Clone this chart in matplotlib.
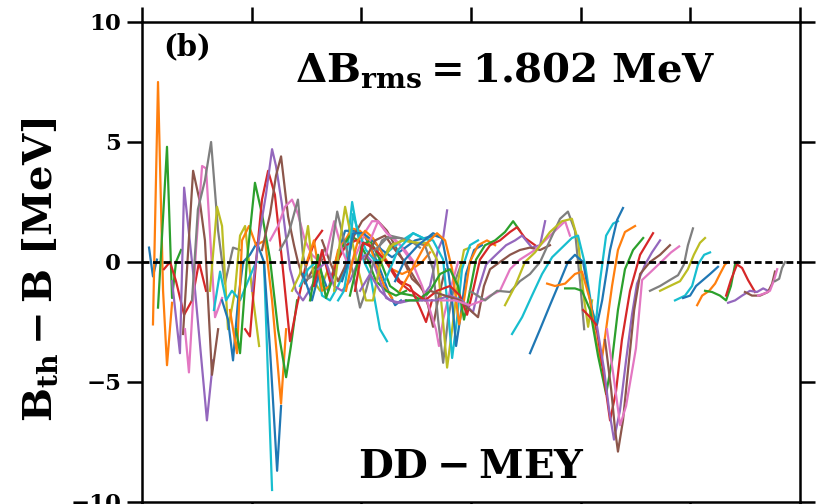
import matplotlib.pyplot as plt

# isotopic chains: mass number A and B_th - B (MeV)
light_A = [
    [3.2, 5.0, 6.8],
    [5.0, 7.3, 9.6, 11.4, 13.7],
    [7.3, 11.4, 13.7, 15.5, 17.8],
    [10.0, 12.8, 15.5, 19.2, 22.8, 26.0, 29.2],
    [13.7, 17.3, 19.2, 24.2, 29.6, 32.4],
    [18.7, 23.3, 26.4, 28.7, 31.9, 34.7],
    [19.6, 21.4, 24.6, 27.4, 29.2, 33.3, 36.5],
    [22.8, 25.5, 28.7, 31.5, 34.7, 37.8, 41.5, 44.7],
    [31.0, 34.2, 36.5, 39.2, 42.4, 44.7, 47.0, 50.2, 53.4],
    [32.8, 35.6, 38.3, 41.0, 44.7, 48.3, 52.0, 55.6, 57.5, 59.3],
    [36.5, 39.2, 41.5, 43.8, 46.1, 49.2, 52.4, 55.6, 58.4, 61.6, 63.4],
    [40.1, 43.3, 45.6, 48.8, 52.0, 56.1, 59.3, 63.4, 65.7],
    [42.9, 44.7, 47.9, 51.5, 54.7, 58.4, 62.0, 65.7, 67.9, 70.7],
    [47.0, 49.2, 52.0, 54.7, 57.5, 60.6, 63.8, 67.5, 70.7, 74.3, 78.9, 82.1],
    [50.2, 53.8, 56.5, 59.3, 61.1, 63.8, 67.5, 70.2, 73.4, 77.5, 81.2],
    [54.7, 58.4, 61.1, 63.4, 66.6, 69.3, 71.1, 74.3, 78.0, 82.1],
    [58.4, 62.0, 65.2, 68.4, 71.1, 74.3, 77.5, 81.2],
    [62.9, 66.6, 71.1, 73.4, 75.7, 79.3, 83.0],
    [68.4, 72.0, 75.7, 78.4, 81.2, 84.8],
]
light_dB = [
    [0.6, -0.6, 0.1],
    [-2.6, 7.5, -1.2, -4.3, -1.7],
    [-1.9, 4.8, -1.5, 0.0, 0.5],
    [-0.3, 0.0, -0.8, -2.2, -1.6, 0.0, -1.2],
    [-0.8, -3.8, 3.1, -1.2, -6.6, -4.1],
    [-3.0, 3.8, 2.5, 0.9, -4.7, -2.8],
    [-2.8, -4.6, 0.5, 4.0, 3.9, -2.3, -1.5],
    [-1.6, 2.2, 3.4, 5.0, 1.3, -0.9, 0.6, 0.5],
    [-1.2, 2.3, 1.5, -2.8, -1.2, 1.1, 1.5, -1.2, -3.5],
    [-2.0, -0.4, -1.6, -1.2, -1.6, -0.8, 0.0, 0.0, -4.9, -9.5],
    [-1.6, -2.4, -4.1, -1.6, 0.0, 0.3, 0.8, 0.0, -3.7, -8.7, -6.0],
    [-2.0, -3.8, 0.9, 1.5, 0.7, 0.9, -1.6, -5.9, -2.8],
    [-2.8, -3.8, 0.1, 3.3, 2.0, 0.1, -2.8, -4.8, -3.5, -1.6],
    [-2.8, -3.1, 0.0, 2.6, 3.8, 2.8, 0.1, -3.3, -1.8, -0.3, 0.9, 1.3],
    [-1.2, 1.3, 2.8, 4.7, 4.0, 2.4, -0.3, -1.2, -1.6, -1.0, -0.3],
    [0.5, 2.0, 3.6, 4.4, 1.9, 0.7, 0.0, -0.9, -0.3, 0.1],
    [0.9, 1.5, 2.3, 2.6, 2.0, 0.9, 0.3, 0.0],
    [0.5, 1.1, 2.6, 0.3, -0.7, -0.5, 0.5],
    [-1.2, -0.5, 1.5, -0.8, -1.2, -0.3],
]

mid_A = [
    [72.0, 75.7, 79.3, 82.1, 85.7, 89.4, 92.6, 95.8, 98.5, 101.3, 104.0, 108.5, 111.7],
    [73.4, 77.5, 81.2, 84.8, 88.5, 92.6, 97.1, 100.8, 104.9, 108.5, 112.2, 115.4, 118.1],
    [74.8, 78.4, 82.1, 85.7, 89.4, 92.6, 95.8, 99.4, 103.1, 106.7, 110.4, 114.0],
    [76.6, 80.3, 83.9, 87.6, 91.2, 94.8, 98.5, 102.1, 106.7, 111.3, 115.8, 120.4],
    [78.4, 82.1, 85.7, 89.4, 93.0, 97.6, 101.3, 105.8, 111.3, 116.7, 122.2],
    [80.3, 83.9, 87.6, 91.2, 94.8, 98.5, 102.1, 105.8, 111.3, 115.8, 120.4],
    [82.1, 85.7, 89.4, 93.0, 96.7, 100.3, 104.0, 107.6, 111.7, 115.8, 119.5, 123.1, 126.7],
    [83.9, 87.6, 91.2, 94.8, 98.5, 102.1, 104.9, 107.6, 111.7, 115.8, 119.9, 124.0],
    [85.7, 89.0, 92.1, 95.8, 99.4, 102.1, 105.8, 109.4, 113.1, 117.6, 122.2, 126.7],
    [87.6, 90.3, 92.6, 94.8, 98.5, 102.1, 105.3, 108.5, 113.1, 119.0, 124.5, 130.0],
    [89.4, 92.1, 94.4, 96.2, 98.5, 102.1, 106.7, 113.1, 118.6, 123.6, 128.1, 131.3],
    [91.2, 94.0, 96.2, 100.8, 104.9, 109.4, 114.0, 118.6, 124.5, 129.0, 133.6, 136.8],
    [93.0, 95.8, 98.5, 101.7, 105.3, 109.9, 114.0, 118.6, 123.1, 127.7, 131.3],
    [94.8, 97.6, 100.3, 104.0, 108.5, 113.1, 117.6, 123.6, 127.7, 131.3],
    [97.1, 100.8, 105.3, 111.7, 117.6, 122.2, 126.7, 129.5, 132.2],
    [99.4, 104.0, 108.5, 113.1, 117.6, 122.2, 126.7, 131.3, 134.9, 137.3, 139.1],
    [101.7, 106.3, 110.8, 115.4, 119.9, 124.5, 128.1, 130.4, 132.7, 134.9, 138.2],
    [104.0, 107.6, 111.7, 117.6, 123.1, 127.7, 131.3, 134.0, 135.4, 137.3, 140.4, 144.1],
    [106.3, 111.7, 117.6, 124.5, 129.0, 132.7, 135.0, 137.3, 139.5, 142.7, 145.9],
    [108.5, 114.0, 119.0, 125.9, 130.4, 134.5, 136.8, 139.1, 141.4, 144.1, 146.8, 149.5],
    [110.8, 116.7, 123.6, 128.1, 132.7, 137.3, 139.5, 141.4, 143.6, 145.9, 149.5, 153.2],
    [115.4, 119.9, 125.9, 132.7, 136.8, 139.5, 141.4, 143.2, 145.0, 147.7, 151.4, 155.0],
    [117.6, 123.1, 129.0, 134.5, 138.2, 141.4, 144.6, 146.8, 149.5, 153.2, 157.3, 161.0],
    [120.4, 125.9, 131.3, 135.9, 140.4, 144.1, 146.8, 149.1, 152.3, 156.4, 161.0, 165.5, 169.2, 172.3],
    [123.1, 129.0, 134.5, 140.4, 145.0, 148.2, 150.9, 154.1, 158.7, 163.2, 167.8, 171.0, 174.6, 179.2],
    [126.7, 133.6, 140.4, 145.9, 150.9, 153.2, 156.9, 161.4, 166.0, 170.1, 173.3, 177.8, 181.5, 183.8],
    [131.3, 138.2, 145.0, 149.5, 153.2, 155.9, 158.7, 163.2, 167.8, 172.3, 176.9, 181.5, 186.0],
    [135.9, 142.7, 149.5, 155.5, 158.7, 163.2, 167.8, 172.3, 179.2, 183.8, 188.3, 192.9, 195.1],
]
mid_dB = [
    [-1.0, -0.3, 0.0, -1.4, -1.6, -1.0, -0.3, 2.5, 1.1, 0.0, -0.5, -2.8, -3.3],
    [-0.5, -1.6, -0.3, -1.2, 0.1, 1.3, 1.3, 1.2, 0.5, -0.3, -1.2, -1.8, -1.6],
    [-0.1, 0.9, -1.2, -1.0, 0.5, 0.9, 1.4, 1.3, 0.9, -0.1, -1.0, -1.5],
    [-1.6, 0.3, -1.5, -0.5, 0.6, 1.1, 0.9, 0.3, -0.8, -1.2, -1.4, -1.2],
    [-1.0, 0.5, -0.8, 0.1, 0.7, 0.9, 0.8, 0.6, 0.0, -0.8, -1.2],
    [-0.3, 0.0, -1.0, -1.2, -0.8, 0.0, 0.3, -0.1, -1.5, -1.7, -1.6],
    [0.9, 0.0, -0.8, -0.1, 1.1, 1.7, 2.0, 1.7, 1.3, 0.6, 0.0, -0.7, -1.0],
    [0.3, 1.7, 0.5, -0.3, 0.5, 1.3, 1.7, 1.7, 1.2, 0.9, 0.5, 0.0],
    [0.1, 2.1, 0.9, -0.3, -1.9, -1.2, 0.1, 0.9, 1.1, 1.0, 0.9, 0.6],
    [-1.2, 0.9, 2.3, 1.3, -0.3, -1.6, -1.6, -0.1, 0.7, 0.9, 0.8, 0.7],
    [-1.6, -1.2, 0.1, 2.0, 1.3, 0.5, 0.0, 0.5, 0.9, 1.2, 1.0, 0.9],
    [-0.8, 0.0, 1.2, 1.2, 0.9, 0.5, 0.2, 0.5, 0.9, 1.0, 1.1, 1.0],
    [-1.2, 0.0, 0.9, 1.3, 1.0, 0.3, -0.3, -0.5, -0.3, 0.0, 0.4],
    [-1.4, -0.3, 0.7, 0.9, 0.1, -1.0, -1.3, -1.4, -1.6, -1.2],
    [-1.2, 0.8, 0.6, 0.0, -0.8, -1.0, -1.9, -2.5, -1.6],
    [-1.2, -0.5, -1.2, -1.6, -1.7, -1.6, -1.6, -1.0, 0.5, 1.0, 2.15],
    [0.1, 0.9, 1.1, 0.5, 0.0, -0.7, -1.2, -1.8, -2.7, -1.6, -0.3],
    [0.9, 1.7, 1.2, 0.7, 0.0, -1.0, -2.0, -2.8, -3.5, -2.4, -1.2, 0.0],
    [0.5, 1.0, 1.0, 0.8, 0.7, -0.3, -2.4, -4.2, -2.4, -0.8, 0.0],
    [-0.1, 0.7, 0.9, 0.8, 0.8, 0.1, -2.0, -4.4, -2.8, -0.8, 0.5, 0.6],
    [-0.8, 0.5, 1.2, 1.0, 0.9, 0.1, -2.0, -4.0, -2.4, -0.3, 0.7, 0.9],
    [-0.8, 0.1, 0.7, 1.2, 1.0, -0.3, -1.6, -3.5, -2.4, -0.5, 0.5, 0.7],
    [-1.2, -0.3, 0.7, 1.2, 0.9, -0.3, -2.6, -1.6, 0.0, 0.7, 0.9, 0.7],
    [-1.6, -1.6, -1.2, -0.5, -0.3, -1.0, -2.4, -1.4, 0.1, 0.7, 0.9, 1.25, 1.7, 1.3],
    [-1.2, -1.6, -1.2, -1.0, -1.4, -2.2, -1.2, 0.1, 0.7, 0.9, 1.25, 1.45, 1.0, 0.7],
    [-1.6, -1.6, -1.4, -1.6, -2.1, -1.2, -0.1, 0.3, 0.7, 0.9, 1.1, 0.6, 0.7, 1.7],
    [-1.2, -1.4, -1.6, -2.0, -2.3, -1.0, -0.3, 0.0, 0.3, 0.5, 0.6, 0.5, 0.7],
    [-1.6, -1.6, -1.8, -1.6, -1.4, -1.2, -0.3, 0.1, 0.5, 0.9, 1.3, 1.7, 1.1],
]

heavy_A = [
    [149.5, 156.4, 161.9, 167.8, 172.3, 176.9, 181.5, 186.0, 190.6, 194.2, 197.4, 199.7, 201.6],
    [165.5, 170.1, 174.6, 179.2, 186.0, 191.5, 196.0, 198.8, 201.6, 203.4, 205.2],
    [168.7, 173.3, 177.8, 182.4, 187.0, 191.5, 196.0, 198.8, 202.0, 205.2, 207.0, 208.8, 211.6, 214.8, 217.0],
    [176.9, 181.5, 186.0, 190.6, 194.2, 197.4, 201.1, 204.3, 207.0, 209.8, 213.4, 216.6, 219.3],
    [184.7, 188.3, 192.9, 197.4, 200.6, 204.3, 207.0, 209.3, 211.6, 214.3, 217.0, 220.2, 224.8],
    [192.9, 197.4, 200.6, 204.3, 207.9, 211.6, 214.3, 217.0, 220.2, 223.9, 228.5],
    [201.1, 204.3, 207.0, 210.2, 213.4, 216.1, 218.8, 222.5, 227.1, 233.0],
    [207.5, 210.7, 213.0, 215.2, 217.9, 220.7, 223.4, 225.7, 229.4, 232.5, 236.2],
    [211.1, 213.9, 215.7, 217.0, 219.3, 221.6, 224.4, 227.1, 231.6, 236.2, 240.7],
    [212.0, 215.2, 218.0, 220.7, 225.2, 228.0, 232.1, 236.7, 241.2, 244.9],
    [231.6, 236.2, 240.7, 244.4, 247.1, 248.9, 251.2],
    [236.2, 240.7, 245.3, 248.9, 251.6, 254.4, 256.7],
    [243.0, 247.6, 250.8, 253.5, 256.3, 259.0],
    [246.7, 249.9, 252.6, 255.8, 259.0, 262.6],
    [253.1, 255.4, 258.6, 261.3, 263.5, 265.8, 267.2],
    [256.7, 259.9, 263.5, 266.3, 268.5, 270.4, 271.7],
    [266.3, 268.5, 271.3, 273.6, 276.3, 279.5],
    [267.2, 270.4, 273.6, 277.2, 280.4, 283.2, 285.4],
    [274.9, 278.1, 281.8, 285.4, 287.3, 288.6],
    [280.9, 284.1, 286.3, 288.2, 289.6],
    [288.6, 290.5, 291.8, 293.2],
]
heavy_dB = [
    [-1.2, -1.6, -1.2, -1.25, -0.8, -0.5, 0.0, 0.9, 1.8, 2.1, 1.3, -0.8, -2.8],
    [-1.8, -1.0, 0.0, 0.4, 1.25, 1.7, 1.8, 0.9, -1.6, -2.7, -1.6],
    [-3.0, -2.3, -1.4, -0.5, 0.2, 0.6, 1.0, 1.1, -0.1, -2.0, -2.5, -0.8, 1.1, 1.6, 1.7],
    [-3.8, -2.8, -1.8, -0.8, 0.0, 0.3, 0.0, -1.6, -2.8, -1.6, 0.5, 1.75, 2.25],
    [-0.9, -1.0, -0.9, -0.5, -0.4, -1.6, -3.25, -4.3, -2.8, -1.0, 0.5, 1.25, 1.5],
    [-1.1, -1.1, -1.2, -2.0, -3.9, -5.5, -4.1, -2.0, -0.3, 0.5, 1.0],
    [-2.0, -2.3, -2.6, -4.5, -6.6, -5.4, -3.25, -1.2, 0.3, 1.2],
    [-2.7, -4.5, -6.2, -7.4, -6.2, -4.1, -2.2, -0.9, -0.1, 0.4, 0.9],
    [-3.25, -5.3, -7.0, -7.9, -6.6, -4.5, -2.0, -0.5, 0.0, 0.3, 0.7],
    [-2.8, -4.9, -6.8, -6.0, -3.6, -0.75, -0.4, 0.0, 0.4, 0.65],
    [-1.2, -1.0, -0.75, -0.55, -0.1, 0.7, 1.4],
    [-1.2, -1.0, -0.8, -0.3, 0.3, 0.8, 1.0],
    [-1.6, -1.4, -1.0, -0.1, 0.3, 0.4],
    [-1.5, -1.4, -1.0, -0.75, -0.5, -0.2],
    [-1.8, -1.4, -1.2, -0.9, -0.5, -0.1, 0.0],
    [-1.2, -1.25, -1.4, -1.6, -1.0, -0.1, 0.0],
    [-1.4, -0.75, -0.1, -0.25, -0.75, -1.25],
    [-1.7, -1.6, -1.4, -1.2, -1.25, -1.1, -1.2],
    [-1.25, -1.4, -1.4, -1.25, -0.9, -0.4],
    [-1.4, -1.3, -1.2, -0.75, -0.3],
    [-0.8, -0.7, -0.25, 0.0],
]

plt.rcParams['font.family'] = 'DejaVu Serif'
plt.rcParams['font.weight'] = 'bold'
plt.rcParams['mathtext.fontset'] = 'dejavuserif'

fig = plt.figure(figsize=(8.22, 5.04), dpi=100)
ax = fig.add_axes([142 / 822, 2 / 504, 658 / 822, 480 / 504])

for A, dB in zip(light_A + mid_A + heavy_A, light_dB + mid_dB + heavy_dB):
    ax.plot(A, dB, lw=1.6)

ax.axhline(0, color='k', ls='--', lw=2, dashes=(2.5, 1.3), zorder=5)

ax.set_xlim(0, 300)
ax.set_ylim(-10, 10)
ax.set_xticks(range(0, 301, 50))
ax.set_yticks([-10, -5, 0, 5, 10])
ax.tick_params(direction='out', length=11, width=1.8, top=True, right=True,
               labelsize=16.5, pad=4)
# the x tick labels sit below the cropped bottom edge
ax.tick_params(axis='x', labelbottom=False)
for s in ax.spines.values():
    s.set_linewidth(1.8)

ax.set_ylabel(r'$\mathbf{B_{th} - B\ [MeV]}$', fontsize=29)
ax.yaxis.set_label_coords(-0.125, 0.483)

ax.text(0.032, 0.948, '(b)', transform=ax.transAxes, fontsize=21,
        fontweight='bold', va='center')
ax.text(0.233, 0.875, r'$\mathbf{\Delta B_{rms} = 1.802\ MeV}$',
        transform=ax.transAxes, fontsize=29, va='baseline')
ax.text(0.5, 0.05, r'$\mathbf{DD - MEY}$', transform=ax.transAxes,
        fontsize=29, ha='center', va='baseline')

fig.savefig('out.png', dpi=100)
